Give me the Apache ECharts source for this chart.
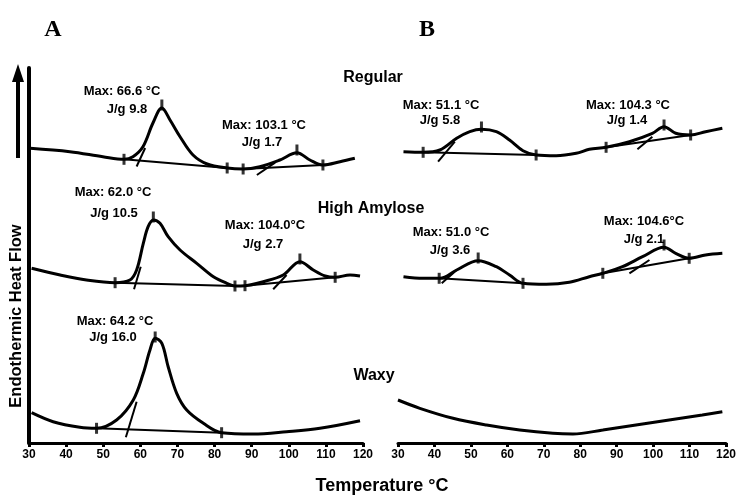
<!DOCTYPE html>
<html>
<head>
<meta charset="utf-8">
<script src="https://cdn.jsdelivr.net/npm/echarts@6/dist/echarts.min.js"></script>
<style>
html,body{margin:0;padding:0;background:#fff;}
#chart{width:739px;height:496px;}
</style>
</head>
<body>
<div id="chart"></div>
<script>
// temperature (°C) vs heat flow (arbitrary units, endo up)
var regularA = [[30.3,294.7],[41,291.3],[49.9,286.3],[55.6,283.7],[58,286.3],[60.7,296.3],[63.4,320],[65.8,335],[68,323],[70.7,306.3],[74.2,288],[78,279],[83.4,275],[87.7,274],[92.2,276.3],[97.6,283],[102.2,290.3],[105.7,283],[109.2,278],[113.8,281.3],[117.8,284.7]];
var regularATicks = [[55.6,283.7],[65.8,338],[83.4,275],[87.7,274],[102.2,293],[109.2,278]];
var regularABase = [[[55.6,283.7],[83.4,275]],[[87.7,274],[109.2,278]]];
var regularATan = [[[59,276.5],[61.3,295]],[[91.4,268],[96.3,280.3]]];

var amyloseA = [[30.7,174.7],[38.4,168],[45.5,163],[53.2,160.3],[57.2,163],[59,173],[60.8,199.7],[62.1,216.3],[63.5,223],[65.3,219.7],[67.5,206.3],[70.7,193],[75.2,179.7],[79.7,166.3],[83.3,159.7],[85.5,157],[88.2,157.3],[93.1,161.3],[98.5,168],[103,181.3],[106.6,173],[109.8,167],[112.5,165.7],[116.5,168],[119.2,167]];
var amyloseATicks = [[53.2,160.3],[63.5,226],[85.5,157],[88.2,157.3],[103,184],[112.5,165.7]];
var amyloseABase = [[[53.2,160.3],[85.5,157]],[[88.2,157.3],[112.5,165.7]]];
var amyloseATan = [[[58.3,153.7],[60.1,176.3]],[[95.8,153.7],[99.4,168]]];

var waxyA = [[30.7,30.3],[36.5,21.3],[43.7,15.7],[48.2,14.7],[53.6,23],[58.1,43],[60.8,69.7],[62.6,93],[64,104.7],[65.8,99.7],[67.5,76.3],[69.8,49.7],[72.5,33],[77,19.7],[81.9,10.3],[90.4,9],[99.4,11.3],[108.4,14.7],[119.2,22.3]];
var waxyATicks = [[48.2,14.7],[64,106],[81.9,10.3]];
var waxyABase = [[[48.2,14.7],[81.9,10.3]]];
var waxyATan = [[[56.1,5.7],[59,41.3]]];

var regularB = [[31.5,291.3],[36.9,290.7],[41.5,293],[46.1,304.7],[49.7,311.3],[52.9,313.7],[57,311.3],[60.6,303],[64.3,292.3],[67.9,288],[73.4,287.3],[78.9,289.7],[82.5,293.7],[87.1,295.7],[93.5,301.3],[99.8,309.7],[103,316.3],[106.2,309.7],[110.3,308],[114.4,311.3],[119,314.7]];
var regularBTicks = [[36.9,290.7],[52.9,316],[67.9,288],[87.1,295.7],[103,318],[110.3,308]];
var regularBBase = [[[36.9,290.7],[67.9,288]],[[87.1,295.7],[110.3,308]]];
var regularBTan = [[[41,281.3],[45.6,301.3]],[[95.7,293.7],[99.8,306.3]]];

var amyloseB = [[31.5,166.3],[36.9,164.7],[41.5,164.7],[46.1,173],[52,182.3],[57,176.3],[60.6,168],[64.3,159.7],[70.7,158.7],[77,160.7],[82.5,166.3],[86.2,169.7],[91.6,176.3],[97.1,186.3],[103,195.7],[106.2,189.7],[109.9,184.7],[114.4,188],[119,189.7]];
var amyloseBTicks = [[41.3,164.7],[52,185],[64.3,159.7],[86.2,169.7],[103,198],[109.9,184.7]];
var amyloseBBase = [[[41.3,164.7],[64.3,159.7]],[[86.2,169.7],[109.9,184.7]]];
var amyloseBTan = [[[42,159.7],[46.1,173]],[[93.5,169.7],[99,183]]];

var waxyB = [[30,43],[36,34.7],[45.1,24.7],[54.3,18],[63.4,13],[72.5,9.7],[78,9],[86.2,13],[95.3,18],[104.4,23],[113.5,28],[119,31.3]];

var font = '"Liberation Sans", Arial, sans-serif';

var series = [];
function addCurve(data, idx){
	series.push({type:'line', xAxisIndex:idx, yAxisIndex:idx, data:data, smooth:0.35, showSymbol:false, silent:true,
		lineStyle:{color:'#000', width:3}});
}
function addSegs(segs, idx){
	for (var i = 0; i < segs.length; i++) {
		series.push({type:'line', xAxisIndex:idx, yAxisIndex:idx, data:segs[i], showSymbol:false, silent:true,
			lineStyle:{color:'#000', width:2}});
	}
}
function addTicks(data, idx){
	series.push({type:'scatter', xAxisIndex:idx, yAxisIndex:idx, data:data, symbol:'rect', symbolSize:[3,11], silent:true,
		itemStyle:{color:'#000'}});
}

addCurve(regularA,0); addSegs(regularABase,0); addSegs(regularATan,0); addTicks(regularATicks,0);
addCurve(amyloseA,0); addSegs(amyloseABase,0); addSegs(amyloseATan,0); addTicks(amyloseATicks,0);
addCurve(waxyA,0); addSegs(waxyABase,0); addSegs(waxyATan,0); addTicks(waxyATicks,0);
addCurve(regularB,1); addSegs(regularBBase,1); addSegs(regularBTan,1); addTicks(regularBTicks,1);
addCurve(amyloseB,1); addSegs(amyloseBBase,1); addSegs(amyloseBTan,1); addTicks(amyloseBTicks,1);
addCurve(waxyB,1);

function xAxisFor(idx){
	return {
		type:'value', gridIndex:idx, min:30, max:120, interval:10,
		axisLine:{lineStyle:{color:'#000', width:3}},
		axisTick:{length:4, lineStyle:{color:'#000', width:3}},
		axisLabel:{color:'#000', fontFamily:font, fontWeight:'bold', fontSize:12, margin:6},
		splitLine:{show:false}
	};
}
function yAxisFor(idx, showLine){
	return {
		type:'value', gridIndex:idx, min:0, max:375,
		axisLine:{show:showLine, lineStyle:{color:'#000', width:4}},
		axisTick:{show:false}, axisLabel:{show:false}, splitLine:{show:false}
	};
}

function txt(s, x, y, size){
	return {type:'text', x:x, y:y, silent:true,
		style:{text:s, textAlign:'center', textVerticalAlign:'middle', fill:'#000',
			font:'bold ' + (size || 13) + 'px ' + font}};
}

var option = {
	animation:false,
	backgroundColor:'#fff',
	grid:[
		{left:29, right:376, top:68, bottom:53},
		{left:398, right:12, top:68, bottom:53}
	],
	xAxis:[xAxisFor(0), xAxisFor(1)],
	yAxis:[yAxisFor(0,true), yAxisFor(1,false)],
	series:series,
	graphic:[
		{type:'text', x:53, y:30, style:{text:'A', textAlign:'center', textVerticalAlign:'middle', fill:'#000', font:'bold 24px "Liberation Serif", serif'}},
		{type:'text', x:427, y:30, style:{text:'B', textAlign:'center', textVerticalAlign:'middle', fill:'#000', font:'bold 24px "Liberation Serif", serif'}},
		{type:'polygon', shape:{points:[[18,64],[12,82],[24,82]]}, style:{fill:'#000'}},
		{type:'rect', shape:{x:16, y:80, width:4, height:78}, style:{fill:'#000'}},
		{type:'text', x:16, y:316, rotation:Math.PI/2, style:{text:'Endothermic Heat Flow', textAlign:'center', textVerticalAlign:'middle', fill:'#000', font:'bold 16.5px ' + font}},
		txt('Temperature °C', 382, 486, 18),
		txt('Regular', 373, 78, 16),
		txt('High Amylose', 371, 209, 16),
		txt('Waxy', 374, 376, 16),
		txt('Max: 66.6 °C', 122, 91), txt('J/g 9.8', 127, 109),
		txt('Max: 103.1 °C', 264, 125), txt('J/g 1.7', 262, 142),
		txt('Max: 62.0 °C', 113, 192), txt('J/g 10.5', 114, 213),
		txt('Max: 104.0°C', 265, 225), txt('J/g 2.7', 263, 244),
		txt('Max: 64.2 °C', 115, 321), txt('J/g 16.0', 113, 337),
		txt('Max: 51.1 °C', 441, 105), txt('J/g 5.8', 440, 120),
		txt('Max: 104.3 °C', 628, 105), txt('J/g 1.4', 627, 120),
		txt('Max: 51.0 °C', 451, 232), txt('J/g 3.6', 450, 250),
		txt('Max: 104.6°C', 644, 221), txt('J/g 2.1', 644, 239)
	]
};

echarts.init(document.getElementById('chart')).setOption(option);
</script>
</body>
</html>
